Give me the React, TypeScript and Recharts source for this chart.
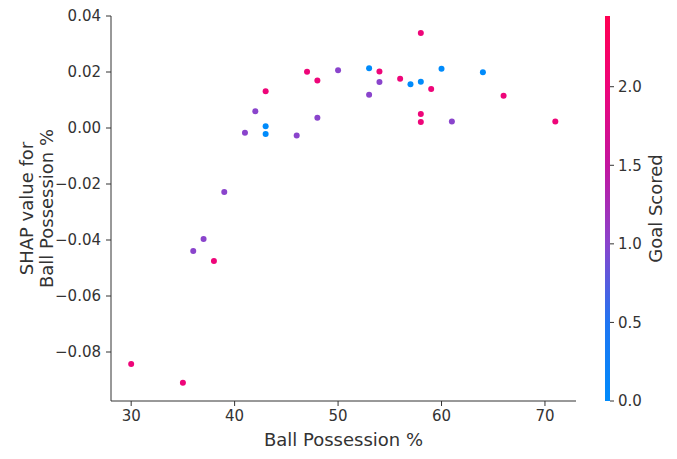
import {
  Bar,
  BarChart,
  Scatter,
  ScatterChart,
  XAxis,
  YAxis,
} from 'recharts'

const possession = [
  30, 35, 36, 37, 38, 39, 41, 42, 43, 43, 43, 46, 47, 48, 48, 50,
  53, 53, 54, 54, 56, 57, 58, 58, 58, 58, 59, 60, 61, 64, 66, 71,
]
const shapValues = [
  -0.0843, -0.091, -0.0439, -0.0396, -0.0475, -0.0229, -0.0017, 0.006,
  0.0131, 0.0006, -0.0021, -0.0027, 0.0201, 0.017, 0.0037, 0.0206,
  0.0213, 0.0119, 0.0202, 0.0164, 0.0176, 0.0156, 0.0165, 0.0339,
  0.005, 0.0021, 0.0139, 0.0212, 0.0023, 0.0199, 0.0115, 0.0023,
]
const goalsScored = [
  2, 2, 1, 1, 2, 1, 1, 1, 2, 0, 0, 1, 2, 2, 1, 1,
  0, 1, 2, 1, 2, 0, 0, 2, 2, 2, 2, 0, 1, 0, 2, 2,
]

const xTicks = [30, 40, 50, 60, 70]
const yTicks = [-0.08, -0.06, -0.04, -0.02, 0, 0.02, 0.04]
const colorTicks = [0, 0.5, 1, 1.5, 2]
const colorMax = 2.45

const goalColors: Record<number, string> = {
  0: '#008bfb',
  1: '#8a44cc',
  2: '#ee0579',
}

const points = possession.map((x, i) => ({
  x,
  y: shapValues[i],
  goal: goalsScored[i],
}))

const textColor = '#333333'
const font = '"DejaVu Sans", sans-serif'

const formatShap = (v: number) => {
  const s = Math.abs(v).toFixed(2)
  return v < 0 ? `\u2212${s}` : s
}

function Dot(props: any) {
  const { cx, cy, payload } = props
  return <circle cx={cx} cy={cy} r={3} fill={goalColors[payload.goal]} />
}

function YLabel(props: any) {
  const { viewBox } = props
  const cy = viewBox.y + viewBox.height / 2
  return (
    <text
      transform={`translate(38, ${cy}) rotate(-90)`}
      textAnchor="middle"
      fontSize={18}
      fill={textColor}
      fontFamily={font}
    >
      <tspan x={0} dy="-0.3em">SHAP value for</tspan>
      <tspan x={0} dy="1.15em">Ball Possession %</tspan>
    </text>
  )
}

function ColorLabel(props: any) {
  const { viewBox } = props
  const cy = viewBox.y + viewBox.height / 2
  return (
    <text
      transform={`translate(${662 - 600}, ${cy}) rotate(-90)`}
      textAnchor="middle"
      fontSize={18}
      fill={textColor}
      fontFamily={font}
    >
      Goal Scored
    </text>
  )
}

export default function App() {
  return (
    <div style={{ position: 'absolute', left: 0, top: 0, width: 677, height: 459, background: '#fff' }}>
      <div style={{ position: 'absolute', left: 0, top: 0 }}>
        <ScatterChart
          width={677}
          height={459}
          margin={{ top: 16, right: 101, bottom: 0, left: 0 }}
        >
          <XAxis
            type="number"
            dataKey="x"
            domain={[28.05, 73]}
            ticks={xTicks}
            height={58}
            stroke={textColor}
            tickSize={5}
            tickMargin={4}
            tick={{ fill: textColor, fontSize: 15, fontFamily: font }}
            label={{
              value: 'Ball Possession %',
              position: 'insideBottom',
              offset: 13,
              fill: textColor,
              fontSize: 18,
              fontFamily: font,
            }}
          />
          <YAxis
            type="number"
            dataKey="y"
            domain={[-0.0975, 0.04]}
            ticks={yTicks}
            width={111}
            stroke={textColor}
            tickSize={5}
            tickMargin={5}
            tickFormatter={formatShap}
            tick={{ fill: textColor, fontSize: 15, fontFamily: font }}
            label={<YLabel />}
          />
          <Scatter data={points} shape={<Dot />} isAnimationActive={false} />
        </ScatterChart>
      </div>
      <div style={{ position: 'absolute', left: 600, top: 0 }}>
        <BarChart
          width={77}
          height={459}
          data={[{ name: 'c', v: colorMax }]}
          margin={{ top: 16, right: 0, bottom: 58, left: 5 }}
          barCategoryGap={0}
        >
          <defs>
            <linearGradient id="cbar" x1="0" y1="1" x2="0" y2="0">
              <stop offset="0%" stopColor="#008bfb" />
              <stop offset="20%" stopColor="#1f76f2" />
              <stop offset="41%" stopColor="#8a44cc" />
              <stop offset="61%" stopColor="#c2169f" />
              <stop offset="82%" stopColor="#ee0579" />
              <stop offset="100%" stopColor="#ff0052" />
            </linearGradient>
          </defs>
          <XAxis dataKey="name" hide />
          <YAxis
            orientation="right"
            type="number"
            domain={[0, colorMax]}
            ticks={colorTicks}
            width={67}
            axisLine={false}
            tickLine={{ stroke: textColor }}
            tickSize={4}
            tickMargin={4}
            tickFormatter={(v: number) => v.toFixed(1)}
            tick={{ fill: textColor, fontSize: 15, fontFamily: font }}
            label={<ColorLabel />}
          />
          <Bar dataKey="v" fill="url(#cbar)" isAnimationActive={false} />
        </BarChart>
      </div>
    </div>
  )
}
